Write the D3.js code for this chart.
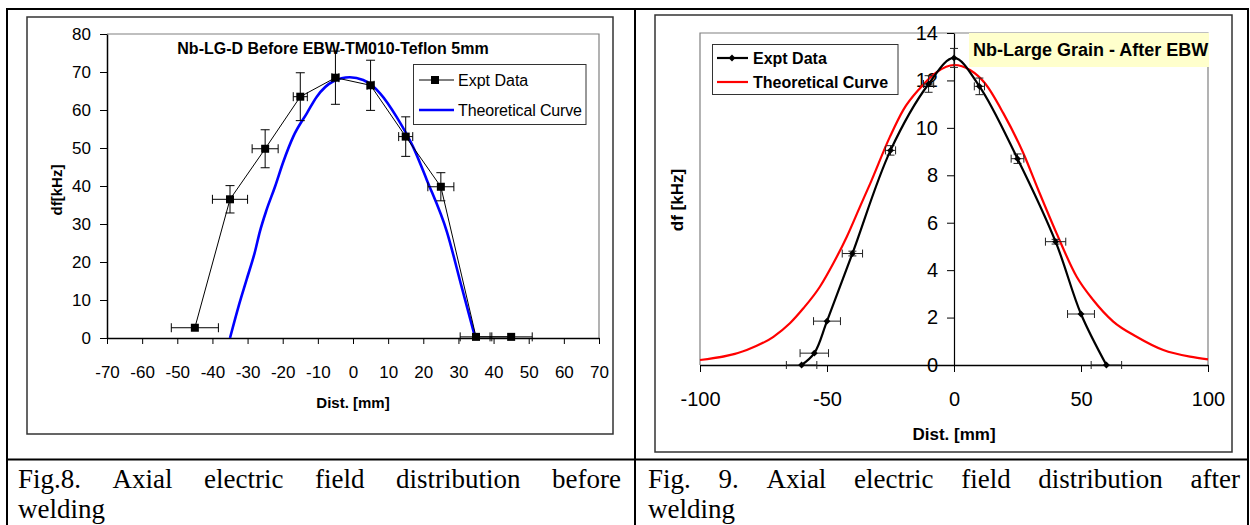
<!DOCTYPE html>
<html>
<head>
<meta charset="utf-8">
<script src="https://cdn.jsdelivr.net/npm/d3@7"></script>
<style>
  html, body { margin: 0; padding: 0; background: #fff; }
  svg { display: block; }
  text { font-family: "Liberation Sans", Arial, sans-serif; }
</style>
</head>
<body>
<svg id="chart" width="1250" height="525"></svg>
<script>
// ---------- Fig. 8 data (before welding) ----------
const leftX     = [-45, -35, -25, -15, -5, 5, 15, 25, 35, 45];
const leftY     = [2.7, 36.5, 49.8, 63.5, 68.5, 66.5, 53, 39.8, 0.3, 0.3];
const leftYErr  = [0, 3.6, 5, 6.3, 7, 6.6, 5.2, 3.7, 0, 0];
const leftXErr  = [6.7, 5, 3.7, 2, 1, 1, 2, 3.7, 4.5, 6];
const leftTheoX = [-35, -32.6, -30.3, -27.9, -26.5, -24.6, -22.2, -19.9, -17, -13.1, -10.3, -5.7, -0.9, 2.9, 7.7, 12.4, 17.1, 21, 26.7, 30.9, 34.8];
const leftTheoY = [0, 8.2, 15.3, 22.7, 28, 33.7, 39.8, 46.2, 53, 59.2, 63.5, 67.5, 68.6, 67.9, 64.4, 58.2, 50.3, 41.6, 28, 13.5, 0];
const leftXTicks = [-70, -60, -50, -40, -30, -20, -10, 0, 10, 20, 30, 40, 50, 60, 70];
const leftYTicks = [0, 10, 20, 30, 40, 50, 60, 70, 80];

// ---------- Fig. 9 data (after welding) ----------
const rightX     = [-60, -55, -50, -40, -25, -10, 0, 10, 25, 40, 50, 60];
const rightY     = [0, 0.5, 1.85, 4.7, 9.05, 11.85, 12.95, 11.75, 8.7, 5.2, 2.15, 0];
const rightXErr  = [6, 5.6, 5.3, 4, 2, 2, 0, 2, 2.5, 4, 5.3, 6];
const rightYErr  = [0, 0, 0, 0.1, 0.2, 0.35, 0.4, 0.35, 0.2, 0.1, 0, 0];
const rightTheoX = [-100, -81.6, -71.1, -64.6, -59.3, -52.8, -47.5, -42.2, -37, -33, -25.2, -20, -13.4, -6.8, 0, 6.3, 12.2, 19.4, 27.3, 33.2, 40.4, 48.3, 54.8, 62.7, 71.9, 82.4, 92.9, 100];
const rightTheoY = [0.21, 0.63, 1.19, 1.76, 2.39, 3.3, 4.29, 5.41, 6.68, 7.65, 9.63, 10.75, 11.67, 12.35, 12.65, 12.44, 11.88, 10.62, 8.93, 7.38, 5.55, 3.72, 2.74, 1.83, 1.19, 0.63, 0.35, 0.24];
const rightXTicks = [-100, -50, 0, 50, 100];
const rightYTicks = [0, 2, 4, 6, 8, 10, 12, 14];

const captionLeft  = ["Fig.8. Axial electric field distribution before", "welding"];
const captionRight = ["Fig. 9. Axial electric field distribution after", "welding"];

const fmt = d => String(d);   // plain hyphen-minus like the original

const svg = d3.select("#chart");
svg.append("rect").attr("width", 1250).attr("height", 525).attr("fill", "#fff");

// ---------- table frame ----------
const frame = svg.append("g").attr("stroke", "#000").attr("stroke-width", 2).attr("fill", "none");
frame.append("line").attr("x1", 6).attr("x2", 1249).attr("y1", 9).attr("y2", 9);
frame.append("line").attr("x1", 7).attr("x2", 7).attr("y1", 8).attr("y2", 525);
frame.append("line").attr("x1", 1248).attr("x2", 1248).attr("y1", 8).attr("y2", 525);
frame.append("line").attr("x1", 635).attr("x2", 635).attr("y1", 8).attr("y2", 525);
frame.append("line").attr("x1", 6).attr("x2", 1249).attr("y1", 459.5).attr("y2", 459.5);

// ---------- captions (justified) ----------
function caption(lines, x0, x1, y0) {
  const g = svg.append("g").attr("font-size", 27).attr("fill", "#000");
  const words = lines[0].split(" ");
  const nodes = words.map(w => g.append("text").attr("y", y0).style("font-family", "'Liberation Serif', serif").text(w));
  const widths = nodes.map(n => n.node().getComputedTextLength());
  const total = d3.sum(widths);
  const gap = (x1 - x0 - total) / (words.length - 1);
  let x = x0;
  nodes.forEach((n, i) => { n.attr("x", x); x += widths[i] + gap; });
  g.append("text").attr("x", x0).attr("y", y0 + 30).style("font-family", "'Liberation Serif', serif").text(lines[1]);
}
caption(captionLeft, 18, 621, 488);
caption(captionRight, 648, 1240, 488);

// ---------- error bar helper ----------
function errorBars(g, xs, ys, xe, ye, sx, sy, cap, color, width) {
  const eg = g.append("g").attr("stroke", color).attr("stroke-width", width).attr("fill", "none");
  xs.forEach((xv, i) => {
    const cx = sx(xv), cy = sy(ys[i]);
    if (xe[i] > 0) {
      const a = sx(xv - xe[i]), b = sx(xv + xe[i]);
      eg.append("line").attr("x1", a).attr("x2", b).attr("y1", cy).attr("y2", cy);
      eg.append("line").attr("x1", a).attr("x2", a).attr("y1", cy - cap).attr("y2", cy + cap);
      eg.append("line").attr("x1", b).attr("x2", b).attr("y1", cy - cap).attr("y2", cy + cap);
    }
    if (ye[i] > 0) {
      const a = sy(ys[i] - ye[i]), b = sy(ys[i] + ye[i]);
      eg.append("line").attr("x1", cx).attr("x2", cx).attr("y1", a).attr("y2", b);
      eg.append("line").attr("x1", cx - cap).attr("x2", cx + cap).attr("y1", a).attr("y2", a);
      eg.append("line").attr("x1", cx - cap).attr("x2", cx + cap).attr("y1", b).attr("y2", b);
    }
  });
}

function styleAxis(ax, size, domainWidth) {
  ax.select(".domain").attr("stroke", "#000").attr("stroke-width", domainWidth);
  ax.selectAll(".tick line").attr("stroke", "#000").attr("stroke-width", 1);
  ax.selectAll(".tick text").attr("font-size", size)
    .attr("font-family", "'Liberation Sans', Arial, sans-serif").attr("fill", "#000");
}

// =================== LEFT CHART ===================
{
  const g = svg.append("g");
  g.append("rect").attr("x", 27).attr("y", 17).attr("width", 586).attr("height", 417)
    .attr("fill", "#fff").attr("stroke", "#333").attr("stroke-width", 1.5);

  const L = 107, R = 599, T = 34, B = 338;
  const sx = d3.scaleLinear().domain([-70, 70]).range([L, R]);
  const sy = d3.scaleLinear().domain([0, 80]).range([B, T]);

  g.append("path").attr("d", `M${L},${T}H${R}V${B}`).attr("fill", "none")
    .attr("stroke", "#808080").attr("stroke-width", 1.2);

  const xAxis = g.append("g").attr("transform", `translate(0,${B})`)
    .call(d3.axisBottom(sx).tickValues(leftXTicks).tickSize(6).tickSizeOuter(0).tickPadding(22).tickFormat(fmt));
  styleAxis(xAxis, 17, 1.5);

  const yAxis = g.append("g").attr("transform", `translate(${L},0)`)
    .call(d3.axisLeft(sy).tickValues(leftYTicks).tickSize(7).tickSizeOuter(0).tickPadding(9).tickFormat(fmt));
  styleAxis(yAxis, 17, 1.5);

  const theo = leftTheoX.map((x, i) => [x, leftTheoY[i]]);
  g.append("path").datum(theo)
    .attr("d", d3.line().x(d => sx(d[0])).y(d => sy(d[1])).curve(d3.curveMonotoneX))
    .attr("fill", "none").attr("stroke", "#0000ff").attr("stroke-width", 2.6);

  const expt = leftX.map((x, i) => [x, leftY[i]]);
  g.append("path").datum(expt)
    .attr("d", d3.line().x(d => sx(d[0])).y(d => sy(d[1])))
    .attr("fill", "none").attr("stroke", "#000").attr("stroke-width", 1);

  errorBars(g, leftX, leftY, leftXErr, leftYErr, sx, sy, 4.5, "#000", 1);

  g.append("g").selectAll("rect").data(expt).join("rect")
    .attr("x", d => sx(d[0]) - 4).attr("y", d => sy(d[1]) - 4)
    .attr("width", 8).attr("height", 8).attr("fill", "#000");

  g.append("text").attr("x", 333).attr("y", 54).attr("text-anchor", "middle")
    .attr("font-size", 16).attr("font-weight", "bold").text("Nb-LG-D Before EBW-TM010-Teflon 5mm");

  const lg = g.append("g");
  lg.append("rect").attr("x", 413.5).attr("y", 64.5).attr("width", 172.5).attr("height", 60)
    .attr("fill", "#fff").attr("stroke", "#333").attr("stroke-width", 1);
  lg.append("line").attr("x1", 419).attr("x2", 454).attr("y1", 80).attr("y2", 80).attr("stroke", "#000").attr("stroke-width", 1);
  lg.append("rect").attr("x", 431).attr("y", 76).attr("width", 8).attr("height", 8).attr("fill", "#000");
  lg.append("text").attr("x", 458).attr("y", 86).attr("font-size", 16).text("Expt Data");
  lg.append("line").attr("x1", 419).attr("x2", 454).attr("y1", 110).attr("y2", 110).attr("stroke", "#0000ff").attr("stroke-width", 2.6);
  lg.append("text").attr("x", 458).attr("y", 116).attr("font-size", 16).attr("textLength", 124).text("Theoretical Curve");

  g.append("text").attr("x", 353).attr("y", 408).attr("text-anchor", "middle")
    .attr("font-size", 15).attr("font-weight", "bold").text("Dist. [mm]");
  g.append("text").attr("transform", "translate(62,190) rotate(-90)").attr("text-anchor", "middle")
    .attr("font-size", 15).attr("font-weight", "bold").text("df[kHz]");
}

// =================== RIGHT CHART ===================
{
  const g = svg.append("g");
  g.append("rect").attr("x", 655).attr("y", 15).attr("width", 577).attr("height", 437)
    .attr("fill", "#fff").attr("stroke", "#333").attr("stroke-width", 1.5);

  const L = 700, R = 1208, T = 33, B = 365;
  const sx = d3.scaleLinear().domain([-100, 100]).range([L, R]);
  const sy = d3.scaleLinear().domain([0, 14]).range([B, T]);

  g.append("path").attr("d", `M${L},${B}V${T}H${R}V${B}`).attr("fill", "none")
    .attr("stroke", "#808080").attr("stroke-width", 1.2);

  g.append("rect").attr("x", 969).attr("y", 33).attr("width", 240).attr("height", 34).attr("fill", "#ffffcc");
  g.append("text").attr("x", 973).attr("y", 56).attr("font-size", 18).attr("font-weight", "bold")
    .text("Nb-Large Grain - After EBW");

  const xAxis = g.append("g").attr("transform", `translate(0,${B})`)
    .call(d3.axisBottom(sx).tickValues(rightXTicks).tickSize(7).tickSizeOuter(0).tickPadding(20).tickFormat(fmt));
  styleAxis(xAxis, 20, 1.5);

  const yAxis = g.append("g").attr("transform", `translate(${sx(0)},0)`)
    .call(d3.axisLeft(sy).tickValues(rightYTicks).tickSize(7).tickSizeOuter(0).tickPadding(9).tickFormat(fmt));
  styleAxis(yAxis, 20, 1.2);

  const theo = rightTheoX.map((x, i) => [x, rightTheoY[i]]);
  g.append("path").datum(theo)
    .attr("d", d3.line().x(d => sx(d[0])).y(d => sy(d[1])).curve(d3.curveMonotoneX))
    .attr("fill", "none").attr("stroke", "#ff0000").attr("stroke-width", 2.2);

  const expt = rightX.map((x, i) => [x, rightY[i]]);
  errorBars(g, rightX, rightY, rightXErr, rightYErr, sx, sy, 4, "#222", 1);
  g.append("path").datum(expt)
    .attr("d", d3.line().x(d => sx(d[0])).y(d => sy(d[1])).curve(d3.curveCatmullRom.alpha(0.5)))
    .attr("fill", "none").attr("stroke", "#000").attr("stroke-width", 2.2);

  g.append("g").selectAll("path").data(expt).join("path")
    .attr("transform", d => `translate(${sx(d[0])},${sy(d[1])})`)
    .attr("d", d3.symbol(d3.symbolDiamond2, 30)).attr("fill", "#000");

  const lg = g.append("g");
  lg.append("rect").attr("x", 712.5).attr("y", 44.5).attr("width", 185.5).attr("height", 50)
    .attr("fill", "#fff").attr("stroke", "#333").attr("stroke-width", 1);
  lg.append("line").attr("x1", 717).attr("x2", 748).attr("y1", 58).attr("y2", 58).attr("stroke", "#000").attr("stroke-width", 2.2);
  lg.append("path").attr("transform", "translate(732,58)").attr("d", d3.symbol(d3.symbolDiamond2, 30)).attr("fill", "#000");
  lg.append("text").attr("x", 753).attr("y", 64).attr("font-size", 16).attr("font-weight", "bold").text("Expt Data");
  lg.append("line").attr("x1", 717).attr("x2", 748).attr("y1", 82).attr("y2", 82).attr("stroke", "#ff0000").attr("stroke-width", 2.2);
  lg.append("text").attr("x", 753).attr("y", 88).attr("font-size", 16).attr("font-weight", "bold").text("Theoretical Curve");

  g.append("text").attr("x", 954).attr("y", 440).attr("text-anchor", "middle")
    .attr("font-size", 17).attr("font-weight", "bold").text("Dist. [mm]");
  g.append("text").attr("transform", "translate(683,200) rotate(-90)").attr("text-anchor", "middle")
    .attr("font-size", 17).attr("font-weight", "bold").text("df [kHz]");
}
</script>
</body>
</html>
